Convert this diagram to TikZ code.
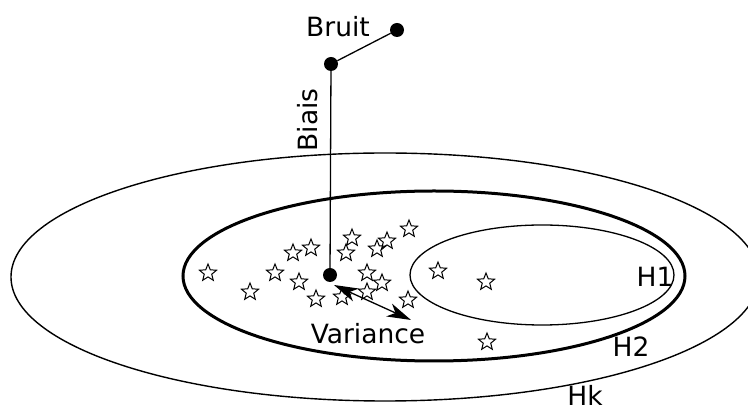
\documentclass[tikz,border=0pt]{standalone}
\usepackage{fontspec}
\setmainfont{DejaVu Sans}
\usetikzlibrary{shapes.geometric,arrows.meta}
\tikzset{
  dot/.style={circle,fill=black,inner sep=0pt,minimum size=14pt},
  starmark/.style={star,star points=5,star point ratio=2.3,draw,line width=1pt,inner sep=0pt,minimum size=18pt},
  lbl/.style={font=\fontsize{26.5}{30}\selectfont,inner sep=0pt},
  conn/.style={line width=1.3pt},
}
\begin{document}
\begin{tikzpicture}[x=1pt,y=-1pt]
\clip (0,0) rectangle (748,411);
\useasboundingbox (0,0) rectangle (748,411);
\fill[white] (0,0) rectangle (748,411);
% ellipses
\draw[line width=1.4pt] (385,277) ellipse [x radius=374, y radius=124];
\draw[line width=3pt] (434,276) ellipse [x radius=251, y radius=85];
\draw[line width=1.3pt] (542,275) ellipse [x radius=132, y radius=50];
% stars
\foreach \p/\q in {208/273,250/292,275/273,293/253,311/248,299/282,316/299,342/297,352/238,346/253,377/249,387/241,409/229,367/273,382/283,367/292,408/300,438/271,486/282,487/342}
  \node[starmark] at (\p,\q) {};
% dots
\node[dot] (noise) at (397,30) {};
\node[dot] (bias) at (331,64) {};
\node[dot] (center) at (330,275) {};
\coordinate (varstart) at (334,285);
\coordinate (varend) at (411,320);
\draw[conn] (noise) -- (bias);
\draw[conn] (bias) -- (center);
\draw[line width=1.3pt,{Stealth[length=24pt,width=14pt,inset=7pt]}-{Stealth[length=24pt,width=14pt,inset=7pt]}] (varstart) -- (varend);
% labels
\node[lbl] (lbruit) at (338,27) {Bruit};
\node[lbl,rotate=90] (lbiais) at (308,120) {Biais};
\node[lbl] (lvar) at (368,334) {Variance};
\node[lbl] (lh1) at (655,277) {H1};
\node[lbl] (lh2) at (631,347) {H2};
\node[lbl] (lhk) at (585,395) {Hk};
\end{tikzpicture}
\end{document}
